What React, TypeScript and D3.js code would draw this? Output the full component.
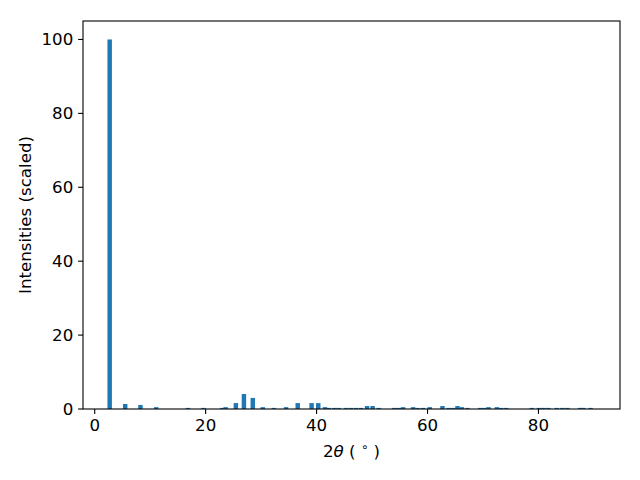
import React from "react";
import * as d3 from "d3";

const positions = [
  2.7, 5.5, 8.25, 11.1, 16.8, 19.6, 23.0, 23.6, 25.45, 26.9, 28.5, 30.3, 32.3, 34.5,
  36.6, 39.1, 40.3, 41.5, 42.2, 43.2, 44.0, 45.3, 46.2, 47.1, 48.0, 49.1, 50.1, 51.2,
  54.0, 54.8, 55.6, 57.4, 58.2, 59.2, 60.4, 62.7, 63.8, 64.6, 65.4, 66.2, 67.2, 69.5,
  70.3, 71.0, 72.5, 73.3, 74.2, 78.8, 80.1, 80.9, 81.8, 83.3, 84.3, 85.2, 87.5, 88.1, 89.4,
];
const intensities = [
  100, 1.35, 1.1, 0.5, 0.3, 0.3, 0.3, 0.5, 1.6, 4.05, 3.0, 0.5, 0.3, 0.5,
  1.6, 1.6, 1.6, 0.5, 0.3, 0.3, 0.3, 0.3, 0.3, 0.3, 0.3, 0.8, 0.8, 0.3,
  0.3, 0.3, 0.5, 0.5, 0.3, 0.3, 0.5, 0.8, 0.3, 0.3, 0.8, 0.5, 0.3, 0.3,
  0.3, 0.5, 0.5, 0.3, 0.3, 0.3, 0.3, 0.3, 0.3, 0.3, 0.3, 0.3, 0.3, 0.3, 0.3,
];
const xTicks = [0, 20, 40, 60, 80];
const yTicks = [0, 20, 40, 60, 80, 100];

const W = 640, H = 480;
const L = 83, R = 620, T = 21, B = 409;
const barWidth = 0.8;
const font = "DejaVu Sans, sans-serif";
const fs = 16.67;

export default function App() {
  const x = d3.scaleLinear().domain([-2.11, 94.7]).range([L, R]);
  const y = d3.scaleLinear().domain([0, 105]).range([B, T]);
  return (
    <svg width={W} height={H} style={{ position: "absolute", left: 0, top: 0, background: "#fff" }}>
      <rect x={0} y={0} width={W} height={H} fill="#fff" />
      {positions.map((p, i) => (
        <rect
          key={i}
          x={x(p - barWidth / 2)}
          width={x(p + barWidth / 2) - x(p - barWidth / 2)}
          y={y(intensities[i])}
          height={y(0) - y(intensities[i])}
          fill="#1f77b4"
        />
      ))}
      <rect x={L} y={T} width={R - L} height={B - T} fill="none" stroke="#000" strokeWidth={1.1} />
      {xTicks.map((t) => (
        <g key={t}>
          <line x1={x(t)} x2={x(t)} y1={B} y2={B + 4.9} stroke="#000" strokeWidth={1.1} />
          <text x={x(t)} y={B + 21.5} textAnchor="middle" fontFamily={font} fontSize={fs} fill="#000">
            {t}
          </text>
        </g>
      ))}
      {yTicks.map((t) => (
        <g key={t}>
          <line x1={L - 4.9} x2={L} y1={y(t)} y2={y(t)} stroke="#000" strokeWidth={1.1} />
          <text x={L - 9.7} y={y(t) + 6} textAnchor="end" fontFamily={font} fontSize={fs} fill="#000">
            {t}
          </text>
        </g>
      ))}
      <text x={(L + R) / 2} y={457} textAnchor="middle" fontFamily={font} fontSize={fs} fill="#000" xmlSpace="preserve">
        <tspan>2</tspan>
        <tspan fontStyle="italic">θ</tspan>
        <tspan> ( </tspan>
        <tspan fontSize={fs * 0.7} dy={-6}>∘</tspan>
        <tspan dy={6}> )</tspan>
      </text>
      <text
        transform={`translate(31,${(T + B) / 2}) rotate(-90)`}
        textAnchor="middle"
        fontFamily={font}
        fontSize={fs}
        fill="#000"
      >
        Intensities (scaled)
      </text>
    </svg>
  );
}
